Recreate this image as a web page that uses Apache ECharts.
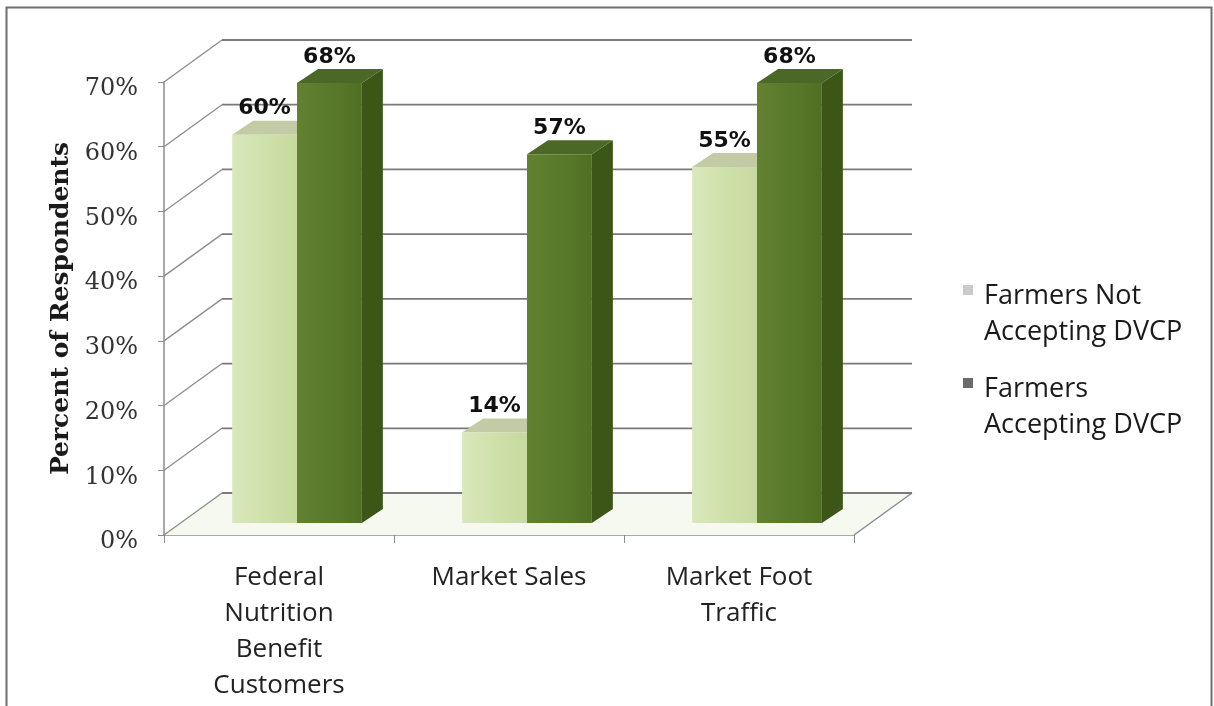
<!DOCTYPE html>
<html>
<head>
<meta charset="utf-8">
<title>Percent of Respondents</title>
<script src="https://cdn.jsdelivr.net/npm/echarts@6/dist/echarts.min.js"></script>
<style>
  html, body { margin: 0; padding: 0; background: #ffffff; }
  #chart { width: 1214px; height: 706px; }
</style>
</head>
<body>
<div id="chart"></div>
<script>
// ---- data ----
const categories = ['Federal\nNutrition\nBenefit\nCustomers', 'Market Sales', 'Market Foot\nTraffic'];
const seriesNames = ['Farmers Not\nAccepting DVCP', 'Farmers\nAccepting DVCP'];
const notAccepting = [60, 14, 55];
const accepting = [68, 57, 68];
const yMin = 0, yMax = 70, yStep = 10;

// ---- 3D look (pixel offsets for the depth direction) ----
const WALL_DX = 58, WALL_DY = -42;      // full depth of the box
const BAR_DX = 18, BAR_DY = -12;        // where the bar front faces sit
const BAR_DEPTH_DX = 21, BAR_DEPTH_DY = -14;
const BAR_WIDTH_RATIO = 0.282;

const G = echarts.graphic;
const lightFront = new G.LinearGradient(0, 0, 1, 0, [
  { offset: 0, color: '#d9e8bd' }, { offset: 0.5, color: '#cfe1aa' }, { offset: 1, color: '#c6d99f' }]);
const darkFront = new G.LinearGradient(0, 0, 1, 0, [
  { offset: 0, color: '#628232' }, { offset: 0.5, color: '#5a7a2b' }, { offset: 1, color: '#506f23' }]);
const barStyles = [
  { front: lightFront, side: '#b7cc8c', top: '#c3caa6' },
  { front: darkFront, side: '#3b5616', top: '#4b6826' }
];

function wallItem(params, api) {
  const cs = params.coordSys;
  const x0 = cs.x, x1 = cs.x + cs.width;
  const children = [];
  const yBase = api.coord([0, yMin])[1];
  // floor
  children.push({
    type: 'polygon',
    shape: { points: [[x0, yBase], [x1, yBase], [x1 + WALL_DX, yBase + WALL_DY], [x0 + WALL_DX, yBase + WALL_DY]] },
    style: { fill: '#f6f9f0' }
  });
  children.push({
    type: 'line',
    shape: { x1: x1, y1: yBase, x2: x1 + WALL_DX, y2: yBase + WALL_DY },
    style: { stroke: '#8c8c8c', lineWidth: 1.5 }
  });
  for (let v = yMin; v <= yMax; v += yStep) {
    const y = api.coord([0, v])[1];
    // left wall diagonal
    children.push({
      type: 'line',
      shape: { x1: x0, y1: y, x2: x0 + WALL_DX, y2: y + WALL_DY },
      style: { stroke: '#8c8c8c', lineWidth: 1.3 }
    });
    // back wall gridline
    children.push({
      type: 'line',
      shape: { x1: x0 + WALL_DX, y1: y + WALL_DY, x2: x1 + WALL_DX, y2: y + WALL_DY },
      style: { stroke: '#7a7a7a', lineWidth: 1.8 }
    });
  }
  return { type: 'group', children: children };
}

function barRenderer(seriesIndex) {
  return function (params, api) {
    const cat = api.value(0);
    const val = api.value(1);
    const base = api.coord([cat, 0]);
    const top = api.coord([cat, val]);
    const band = api.size([1, 0])[0];
    const w = band * BAR_WIDTH_RATIO;
    const cx = base[0] + BAR_DX;
    const x0 = seriesIndex === 0 ? cx - w : cx;
    const x1 = x0 + w;
    const ty = top[1] + BAR_DY;
    const by = base[1] + BAR_DY;
    const s = barStyles[seriesIndex];
    const dx = BAR_DEPTH_DX, dy = BAR_DEPTH_DY;
    return {
      type: 'group',
      children: [
        {
          type: 'polygon',
          shape: { points: [[x1, ty], [x1 + dx, ty + dy], [x1 + dx, by + dy], [x1, by]] },
          style: { fill: s.side }
        },
        {
          type: 'polygon',
          shape: { points: [[x0, ty], [x0 + dx, ty + dy], [x1 + dx, ty + dy], [x1, ty]] },
          style: { fill: s.top }
        },
        {
          type: 'rect',
          shape: { x: x0, y: ty, width: w, height: by - ty },
          style: { fill: s.front }
        },
        {
          type: 'text',
          x: x0 + w / 2,
          y: ty + dy - 12,
          style: {
            text: val + '%',
            fill: '#111',
            font: 'bold 22px "DejaVu Sans"',
            align: 'center',
            verticalAlign: 'middle'
          }
        }
      ]
    };
  };
}

const chart = echarts.init(document.getElementById('chart'), null, { renderer: 'canvas' });

const legendSwatches = ['#cbcbcb', '#6a6a6a'];
const legendTop = [285, 378];
const legendGraphics = [];
seriesNames.forEach(function (name, i) {
  legendGraphics.push({
    type: 'rect', left: 963, top: legendTop[i],
    shape: { width: 10, height: 10 }, style: { fill: legendSwatches[i] }
  });
  legendGraphics.push({
    type: 'text', left: 984, top: legendTop[i] - 7,
    style: { text: name, font: '27px "Open Sans"', fill: '#1a1a1a', lineHeight: 36 }
  });
});

chart.setOption({
  backgroundColor: '#ffffff',
  animation: false,
  grid: { left: 164, right: 360, top: 82, bottom: 171, containLabel: false },
  xAxis: {
    type: 'category',
    data: categories,
    axisLine: { show: true, lineStyle: { color: '#8c8c8c', width: 1.5 } },
    axisTick: { show: true, length: 8, alignWithLabel: false, lineStyle: { color: '#8c8c8c' } },
    axisLabel: {
      interval: 0, margin: 25,
      fontFamily: 'Open Sans', fontSize: 26, color: '#222', lineHeight: 36
    },
    splitLine: { show: false }
  },
  yAxis: {
    type: 'value',
    min: yMin, max: yMax, interval: yStep,
    name: 'Percent of Respondents',
    nameLocation: 'middle',
    nameGap: 89,
    nameTextStyle: { fontFamily: 'DejaVu Serif', fontWeight: 'bold', fontSize: 25, color: '#1a1a1a' },
    axisLine: { show: true, lineStyle: { color: '#8c8c8c', width: 1.5 } },
    axisTick: { show: true, length: 6, lineStyle: { color: '#8c8c8c' } },
    axisLabel: {
      margin: 26,
      formatter: '{value}%',
      fontFamily: 'DejaVu Serif', fontSize: 24, color: '#333',
      verticalAlign: 'top', lineHeight: 14
    },
    splitLine: { show: false }
  },
  graphic: [
    {
      type: 'rect', left: 4, top: 5, z: -10,
      shape: { width: 1205, height: 720 },
      style: { fill: 'none', stroke: '#6f6f6f', lineWidth: 2 }
    }
  ].concat(legendGraphics),
  series: [
    {
      type: 'custom', name: 'walls', z: 1,
      renderItem: wallItem,
      data: [[0, 0]],
      silent: true
    },
    {
      type: 'custom', name: seriesNames[0], z: 2,
      renderItem: barRenderer(0),
      encode: { x: 0, y: 1 },
      data: notAccepting.map(function (v, i) { return [i, v]; })
    },
    {
      type: 'custom', name: seriesNames[1], z: 3,
      renderItem: barRenderer(1),
      encode: { x: 0, y: 1 },
      data: accepting.map(function (v, i) { return [i, v]; })
    }
  ]
});
</script>
</body>
</html>
